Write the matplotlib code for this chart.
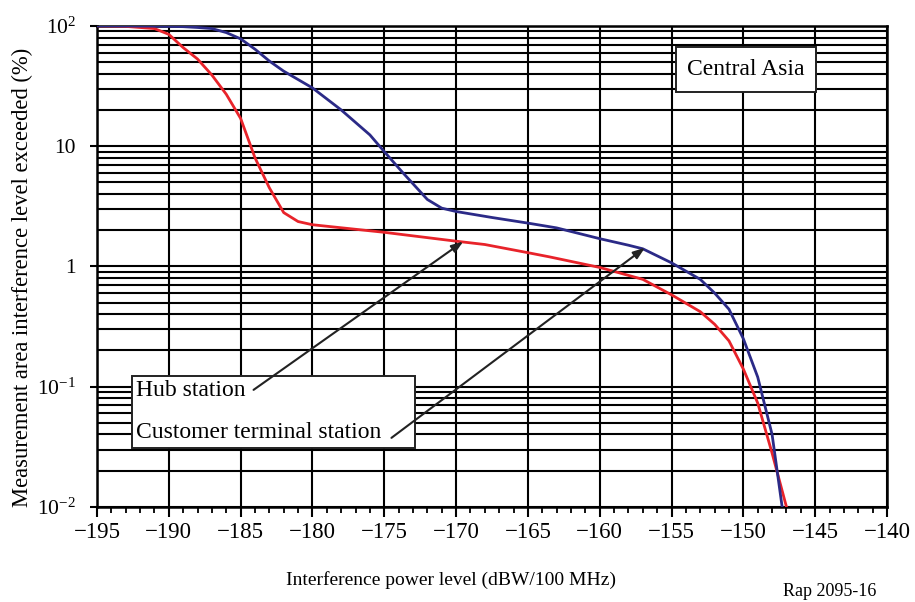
import matplotlib
matplotlib.use("Agg")
import matplotlib.pyplot as plt
from matplotlib.ticker import LogLocator, NullFormatter, MultipleLocator
from matplotlib.patches import Rectangle
import numpy as np

# ---- data ----
hub_x = [-195, -193, -191, -190, -189, -188, -187, -186, -185, -184, -183, -182,
         -181, -180, -175, -170, -168, -165, -163.5, -160, -157, -155, -153,
         -152, -151, -150, -149, -148, -147]
hub_y = [100, 99, 95, 85, 66, 53, 39, 27, 17, 8.0, 4.5, 2.8,
         2.36, 2.22, 1.92, 1.62, 1.52, 1.3, 1.2, 0.98, 0.78, 0.58, 0.42,
         0.33, 0.24, 0.14, 0.073, 0.028, 0.01]

cust_x = [-195, -191, -189, -188, -187, -186, -185, -184, -183, -182, -180, -178,
          -176, -175, -173.7, -172, -171, -170, -167.5, -165, -163, -160, -158,
          -157, -155, -153, -152, -151, -150, -149, -148, -147.3]
cust_y = [100, 99.5, 98.5, 97, 95, 88, 78, 64, 51, 42, 30.5, 20,
          12.4, 9.0, 6.0, 3.6, 3.05, 2.86, 2.55, 2.29, 2.09, 1.7, 1.5,
          1.4, 1.07, 0.78, 0.6, 0.44, 0.25, 0.12, 0.04, 0.01]

x_ticks = [-195, -190, -185, -180, -175, -170, -165, -160, -155, -150, -145, -140]
y_ticks = [1e-2, 1e-1, 1, 10, 100]
y_tick_labels = [r"$10^{-2}$", r"$10^{-1}$", "1", "10", r"$10^{2}$"]

series_labels = ["Hub station", "Customer terminal station"]
region_label = "Central Asia"
x_label = "Interference power level (dBW/100 MHz)"
y_label = "Measurement area interference level exceeded (%)"
ref_label = "Rap 2095-16"

# ---- style ----
plt.rcParams["font.family"] = ["Liberation Serif", "DejaVu Serif"]
plt.rcParams["mathtext.fontset"] = "custom"
plt.rcParams["mathtext.rm"] = "Liberation Serif"
plt.rcParams["mathtext.it"] = "Liberation Serif:italic"
plt.rcParams["mathtext.bf"] = "Liberation Serif:bold"

fig = plt.figure(figsize=(9.15, 6.02), dpi=100)
ax = fig.add_axes([0.106, 0.158, 0.8634, 0.799])

red = "#e8232a"
blue = "#2b2a87"
grid_lw = 1.5

ax.plot(hub_x, hub_y, color=red, lw=2.0, zorder=3)
ax.plot(cust_x, cust_y, color=blue, lw=2.0, zorder=3)

ax.set_yscale("log")
ax.set_xlim(-195, -140)
ax.set_ylim(1e-2, 1e2)

ax.set_xticks(x_ticks)
ax.set_xticklabels([f"\u2212{abs(v)}" for v in x_ticks])
ax.xaxis.set_minor_locator(MultipleLocator(1))
ax.set_yticks(y_ticks)
ax.set_yticklabels(y_tick_labels)
ax.yaxis.set_minor_locator(LogLocator(base=10, subs=np.arange(2, 10)))
ax.yaxis.set_minor_formatter(NullFormatter())

ax.grid(True, which="major", axis="x", color="black", lw=grid_lw)
ax.grid(True, which="both", axis="y", color="black", lw=grid_lw)
ax.set_axisbelow(True)

ax.tick_params(axis="x", which="major", direction="out", length=7, width=1.5,
               labelsize=16.5, pad=4, colors="black")
ax.tick_params(axis="x", which="minor", direction="out", length=4, width=1.3)
ax.tick_params(axis="y", which="major", direction="out", length=5, width=1.5,
               labelsize=15.5, pad=10)
ax.tick_params(axis="y", which="minor", length=0)
for s in ax.spines.values():
    s.set_linewidth(1.8)

# region box
ax.add_patch(Rectangle((0.733, 0.8628), 0.177, 0.0935, transform=ax.transAxes,
                       fc="white", ec="#222222", lw=1.4, zorder=5))
ax.text(0.8215, 0.9096, region_label, transform=ax.transAxes, ha="center",
        va="center", fontsize=17, zorder=6)

# series label box
ax.add_patch(Rectangle((0.0439, 0.1227), 0.3586, 0.1496, transform=ax.transAxes,
                       fc="white", ec="#222222", lw=1.4, zorder=5))
ax.text(0.050, 0.242, series_labels[0], transform=ax.transAxes, ha="left",
        va="center", fontsize=17, zorder=6)
ax.text(0.050, 0.155, series_labels[1], transform=ax.transAxes, ha="left",
        va="center", fontsize=17, zorder=6)

arrow_kw = dict(arrowstyle="-|>,head_length=0.7,head_width=0.25", color="#222222",
                lw=1.5, shrinkA=0, shrinkB=0)
ax.annotate("", xy=(-169.5, 1.61), xytext=(-184.1, 0.094), arrowprops=arrow_kw,
            zorder=7)
ax.annotate("", xy=(-156.85, 1.43), xytext=(-174.5, 0.0375), arrowprops=arrow_kw,
            zorder=7)

fig.text(451 / 915, 1 - 580 / 602, x_label, ha="center", va="center", fontsize=14)
fig.text(22 / 915, 1 - 277 / 602, y_label, ha="center", va="center", fontsize=16.3,
         rotation=90)
fig.text(830 / 915, 1 - 592 / 602, ref_label, ha="center", va="center", fontsize=13)

fig.savefig("out.png", dpi=100)
